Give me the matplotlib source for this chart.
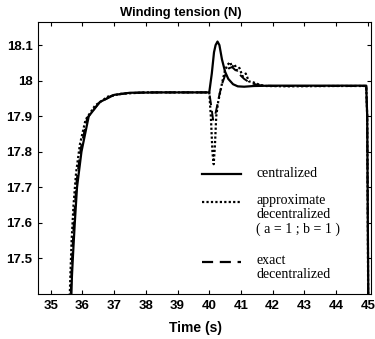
import matplotlib
matplotlib.use("Agg")
import matplotlib.pyplot as plt

# centralized controller (solid)
t_cen = [35.55, 35.62, 35.67, 35.71, 35.76, 35.83, 35.97, 36.2, 36.55, 37.0, 37.5, 38.5, 40.0,
         40.08, 40.15, 40.2, 40.26, 40.32, 40.4, 40.5, 40.6, 40.75, 40.9, 41.1, 41.4, 42.0,
         43.0, 44.0, 44.95, 44.98, 45.0, 45.03]
v_cen = [17.2, 17.3, 17.45, 17.52, 17.6, 17.7, 17.8, 17.9, 17.94, 17.96, 17.966, 17.967, 17.967,
         18.02, 18.08, 18.1, 18.11, 18.1, 18.06, 18.025, 18.005, 17.99, 17.984, 17.983, 17.985, 17.986,
         17.986, 17.986, 17.986, 17.9, 17.6, 17.2]

# approximate decentralized (dotted)
t_apx = [35.5, 35.57, 35.62, 35.66, 35.72, 35.8, 35.92, 36.1, 36.4, 36.8, 37.2, 38.0, 40.0,
         40.05, 40.1, 40.14, 40.18, 40.22, 40.28, 40.35, 40.42, 40.5, 40.58, 40.66, 40.72, 40.8,
         40.88, 40.95, 41.05, 41.15, 41.25, 41.4, 41.6, 41.8, 42.5, 44.0, 44.95, 44.98, 45.0, 45.02]
v_apx = [17.2, 17.3, 17.45, 17.55, 17.65, 17.74, 17.82, 17.89, 17.93, 17.955, 17.963, 17.967, 17.967,
         17.9, 17.8, 17.765, 17.82, 17.9, 17.94, 17.97, 18.0, 18.03, 18.045, 18.052, 18.038, 18.046,
         18.028, 18.036, 18.012, 18.02, 17.998, 17.995, 17.988, 17.985, 17.984, 17.985, 17.985, 17.9, 17.6, 17.2]

# exact decentralized (dashed)
t_ex = [35.52, 35.6, 35.65, 35.69, 35.74, 35.82, 35.95, 36.15, 36.5, 36.9, 37.4, 38.0, 40.0,
        40.06, 40.12, 40.18, 40.25, 40.33, 40.42, 40.52, 40.62, 40.72, 40.82, 40.95, 41.1, 41.3,
        41.6, 42.0, 44.0, 44.95, 44.98, 45.0, 45.02]
v_ex = [17.2, 17.3, 17.45, 17.53, 17.62, 17.72, 17.81, 17.895, 17.935, 17.957, 17.965, 17.967, 17.967,
        17.93, 17.89, 17.9, 17.93, 17.965, 17.995, 18.02, 18.035, 18.038, 18.03, 18.018, 18.005, 17.993,
        17.987, 17.985, 17.985, 17.985, 17.9, 17.6, 17.2]

x_ticks = [35, 36, 37, 38, 39, 40, 41, 42, 43, 44, 45]
y_ticks = [17.5, 17.6, 17.7, 17.8, 17.9, 18.0, 18.1]
y_labels = ["17.5", "17.6", "17.7", "17.8", "17.9", "18", "18.1"]

fig = plt.figure(figsize=(3.75, 3.39), dpi=100)
ax = fig.add_axes([38 / 375, 1 - 294 / 339, 333 / 375, 272 / 339])

ax.plot(t_cen, v_cen, color="black", lw=1.6)
ax.plot(t_apx, v_apx, color="black", lw=1.6, linestyle=(0, (1, 1)))
ax.plot(t_ex, v_ex, color="black", lw=1.4, linestyle=(0, (5, 3)))

ax.set_xlim(34.6, 45.1)
ax.set_ylim(17.4, 18.165)
ax.set_xticks(x_ticks)
ax.set_yticks(y_ticks)
ax.set_yticklabels(y_labels)
ax.tick_params(direction="in", top=True, right=True, length=3, width=0.8, pad=4)
for lab in ax.get_xticklabels() + ax.get_yticklabels():
    lab.set_fontfamily("Liberation Sans")
    lab.set_fontweight("bold")
    lab.set_fontsize(9.5)

ax.set_title("Winding tension (N)", fontfamily="Liberation Sans", fontweight="bold",
             fontsize=9.4, pad=4, x=0.43)
ax.set_xlabel("Time (s)", fontfamily="Liberation Sans", fontweight="bold", fontsize=10, labelpad=6)
ax.xaxis.set_label_coords(0.474, -0.1)

# legend drawn by hand so the handle sits on the first line of each label
entries = [(None, "centralized", 0.44),
           ((0, (1, 1)), "approximate\ndecentralized\n( a = 1 ; b = 1 )", 0.338),
           ((0, (5, 3)), "exact\ndecentralized", 0.118)]
for dash, label, yy in entries:
    ls = dash if dash is not None else "-"
    ax.plot([0.492, 0.61], [yy, yy], transform=ax.transAxes, color="black", lw=1.6, linestyle=ls)
    ax.text(0.655, yy + 0.028, label, transform=ax.transAxes, va="top", ha="left",
            fontfamily="Liberation Serif", fontsize=10, linespacing=1.1)

fig.savefig("out.png", dpi=100)
